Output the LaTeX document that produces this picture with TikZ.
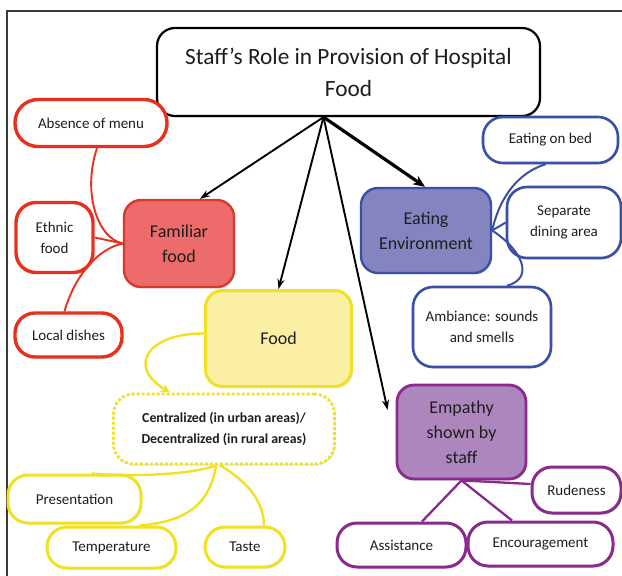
\documentclass[tikz,border=0pt]{standalone}
\usepackage{fontspec}
\setmainfont{Carlito}
\usetikzlibrary{arrows.meta,shadows,calc}
\definecolor{txt}{HTML}{1E1E1E}
\definecolor{redb}{HTML}{E8301F}
\definecolor{famfill}{HTML}{EE6B6B}
\definecolor{famb}{HTML}{D43B2E}
\definecolor{yelb}{HTML}{F0E124}
\definecolor{foodfill}{HTML}{FAEFA2}
\definecolor{blueb}{HTML}{3A4FA6}
\definecolor{eefill}{HTML}{8485C0}
\definecolor{purb}{HTML}{8A2A8E}
\definecolor{empfill}{HTML}{AE86BE}
\definecolor{framec}{HTML}{3A3A3A}
\tikzset{
  base/.style={rectangle, inner sep=0pt, align=center, text=txt,
    drop shadow={opacity=0.2, shadow xshift=1.2pt, shadow yshift=-1.6pt}},
  titlebox/.style={base, draw=black, line width=2.2pt, fill=white, rounded corners=18pt,
    font=\fontsize{23.3}{32}\selectfont},
  mainbox/.style={base, line width=2.4pt, rounded corners=17pt,
    font=\fontsize{18}{25}\selectfont},
  leaf/.style={base, fill=white, line width=3pt, rounded corners=20pt,
    font=\fontsize{15}{21}\selectfont},
  redleaf/.style={leaf, draw=redb, line width=3.4pt},
  yelleaf/.style={leaf, draw=yelb},
  blueleaf/.style={leaf, draw=blueb, line width=2.6pt},
  purleaf/.style={leaf, draw=purb},
  redline/.style={draw=redb, line width=1.9pt},
  yelline/.style={draw=yelb, line width=2.4pt},
  blueline/.style={draw=blueb, line width=2pt},
  purline/.style={draw=purb, line width=2.3pt},
  blackarrow/.style={draw=black, line width=1.9pt, -{Stealth[length=10pt,width=7pt]}},
}
\begin{document}
\begin{tikzpicture}[x=1pt,y=-1pt]
\useasboundingbox (0,0) rectangle (622,576);
\draw[framec, line width=1.8pt] (7,576) -- (7,11) -- (622,11);

% title
\node[titlebox, minimum width=383pt, minimum height=88pt] (title) at (348.5,72) {Staff’s Role in Provision of Hospital\\Food};
\coordinate (apex) at ([xshift=-25pt]title.south);

% main boxes
\node[mainbox, draw=famb, fill=famfill, minimum width=110pt, minimum height=87pt] (fam) at (179,243.5) {Familiar\\food};
\node[mainbox, draw=yelb, fill=foodfill, line width=3pt, minimum width=146pt, minimum height=96pt] (food) at (278.5,338.5) {Food};
\node[mainbox, draw=blueb, fill=eefill, minimum width=130pt, minimum height=85pt] (ee) at (426,230.5) {Eating\\Environment};
\node[mainbox, draw=purb, fill=empfill, line width=2.8pt, minimum width=129pt, minimum height=94pt] (emp) at (461.5,432) {Empathy\\shown by\\staff};

% red leaves
\node[redleaf, minimum width=152pt, minimum height=47pt, rounded corners=23pt] (menu) at (91,123) {Absence of menu};
\node[redleaf, minimum width=77pt, minimum height=70pt] (ethnic) at (54.5,237.5) {Ethnic\\food};
\node[redleaf, minimum width=107pt, minimum height=44pt] (local) at (68.5,335) {Local dishes};

% yellow leaves
\node[yelleaf, dotted, line width=2.8pt, minimum width=221pt, minimum height=70pt, font=\bfseries\fontsize{13.8}{21}\selectfont] (cent) at (224,429) {Centralized (in urban areas)/\\Decentralized (in rural areas)};
\node[yelleaf, minimum width=133pt, minimum height=48pt] (pres) at (74.5,499) {Presentation};
\node[yelleaf, minimum width=129pt, minimum height=41pt] (temp) at (111.5,547.5) {Temperature};
\node[yelleaf, minimum width=80pt, minimum height=40pt] (taste) at (245,547) {Taste};

% blue leaves
\node[blueleaf, minimum width=135pt, minimum height=46pt] (bed) at (550.5,140) {Eating on bed};
\node[blueleaf, minimum width=114pt, minimum height=71pt] (sep) at (564,222.5) {Separate\\dining area};
\node[blueleaf, minimum width=138pt, minimum height=80pt] (amb) at (482,327) {Ambiance: sounds\\and smells};

% purple leaves
\node[purleaf, minimum width=89pt, minimum height=46pt] (rud) at (576.5,490) {Rudeness};
\node[purleaf, minimum width=129pt, minimum height=44pt] (assist) at (401.5,545) {Assistance};
\node[purleaf, minimum width=145pt, minimum height=44pt] (enc) at (540.5,544) {Encouragement};

% black arrows
\draw[blackarrow] (apex) -- ([xshift=21pt]fam.north);
\draw[blackarrow] (apex) -- (food.north);
\draw[blackarrow, line width=3.2pt, -{Stealth[length=12pt,width=10pt]}] (apex) -- ([xshift=-1pt]ee.north);
\draw[blackarrow] (apex) -- ([shift={(-8pt,22pt)}]emp.west);

% red connectors
\draw[redline] ([xshift=6pt]menu.south) .. controls +(-15,45) and +(-25,-5) .. (fam.west);
\draw[redline] (ethnic.east) -- (fam.west);
\draw[redline] ([xshift=-4pt]local.north) .. controls +(10,-35) and +(-25,5) .. (fam.west);

% yellow connectors
\draw[yelline, -{Stealth[length=9pt,width=9pt]}] ([yshift=5pt]food.west) .. controls (150,333) and (125,365) .. ([xshift=-54pt]cent.north);
\draw[yelline] ([xshift=17pt]pres.north) .. controls (150,478) and (200,472) .. ([xshift=-8pt]cent.south);
\draw[yelline] ([xshift=-8pt]cent.south) .. controls (210,505) and (185,522) .. ([xshift=28pt]temp.north);
\draw[yelline] ([xshift=-4pt]cent.south) .. controls (245,480) and (264,500) .. ([xshift=19pt]taste.north);

% blue connectors
\draw[blueline] (ee.east) .. controls (500,195) and (520,172) .. ([xshift=-5pt]bed.south);
\draw[blueline] (ee.east) -- (sep.west);
\draw[blueline] (ee.east) .. controls (522,250) and (535,278) .. ([xshift=25pt]amb.north);

% purple connectors
\draw[purline] (emp.south) -- ([xshift=20.5pt]assist.north);
\draw[purline] (emp.south) -- ([xshift=-28.5pt]enc.north);
\draw[purline] (emp.south) -- ([yshift=6pt]rud.west);
\end{tikzpicture}
\end{document}
